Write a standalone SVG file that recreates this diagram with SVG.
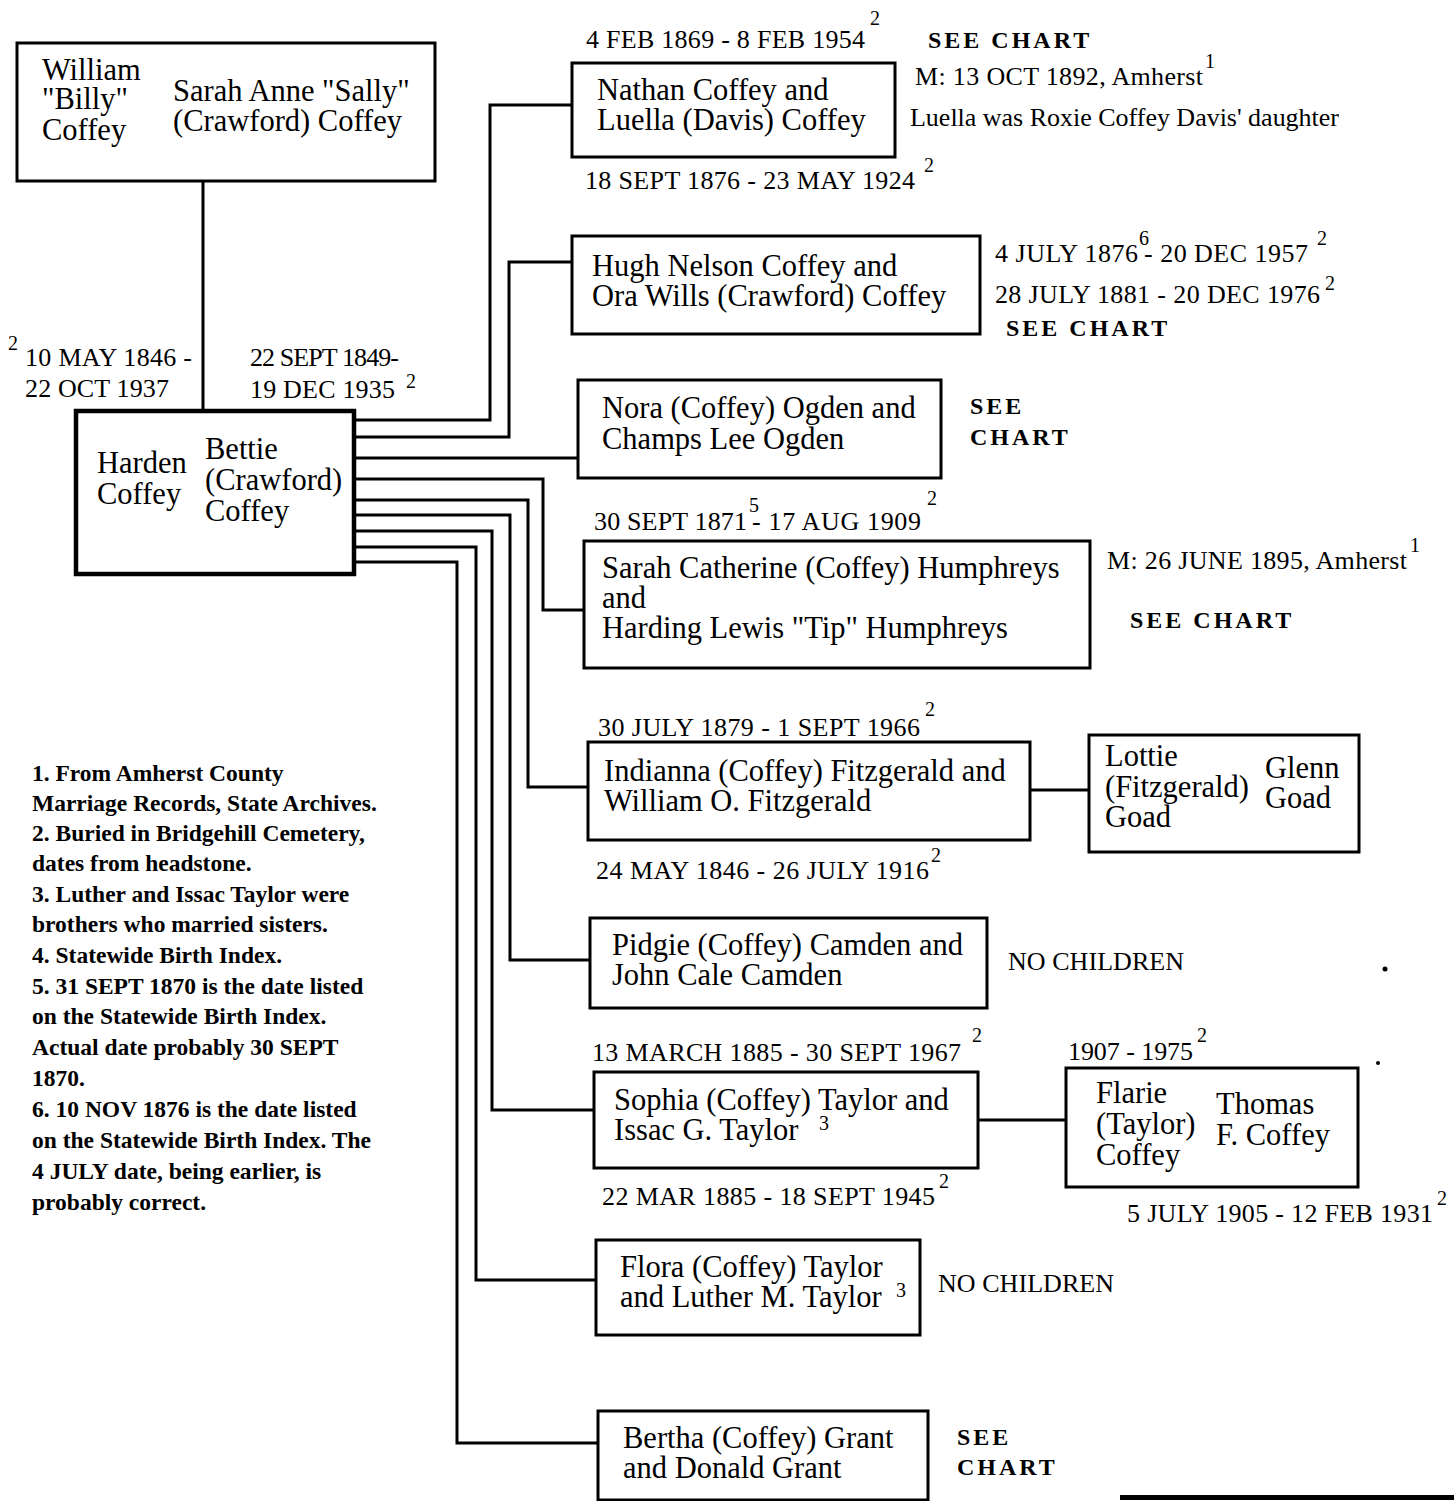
<svg xmlns="http://www.w3.org/2000/svg" width="1454" height="1501" viewBox="0 0 1454 1501">
<style>
.box{fill:#fff;stroke:#000;stroke-width:3}
.thick{stroke-width:4.5}
.con{fill:none;stroke:#000;stroke-width:3}
.nm{font-family:"Liberation Serif","Times New Roman",serif;font-size:30.5px;fill:#000}
.dt{font-family:"Liberation Serif","Times New Roman",serif;font-size:26px;fill:#000}
.sup{font-family:"Liberation Serif","Times New Roman",serif;font-size:20px;fill:#000}
.see{font-family:"Liberation Serif","Times New Roman",serif;font-size:24px;font-weight:bold;letter-spacing:3px;fill:#000}
.fn{font-family:"Liberation Serif","Times New Roman",serif;font-size:23.5px;font-weight:bold;fill:#000}
</style>
<rect width="1454" height="1501" fill="#fff"/>
<g id="connectors">
<path class="con" d="M203,182 V410"/>
<path class="con" d="M355,420 H490 V105 H572"/>
<path class="con" d="M355,437 H509 V262 H572"/>
<path class="con" d="M355,458 H578"/>
<path class="con" d="M355,479 H543 V610 H584"/>
<path class="con" d="M355,500 H528 V787 H588"/>
<path class="con" d="M355,515 H510 V960 H590"/>
<path class="con" d="M355,531 H492 V1110 H594"/>
<path class="con" d="M355,547 H476 V1280 H596"/>
<path class="con" d="M355,562 H457 V1443 H598"/>
<path class="con" d="M1030,790 H1089"/>
<path class="con" d="M978,1120 H1066"/>
</g>
<g id="parents">
<rect class="box" x="17" y="43" width="418" height="138"/>
<text class="nm" x="42" y="80">William</text>
<text class="nm" x="42" y="109">"Billy"</text>
<text class="nm" x="42" y="140">Coffey</text>
<text class="nm" x="173" y="101">Sarah Anne "Sally"</text>
<text class="nm" x="173" y="131">(Crawford) Coffey</text>
</g>
<g id="harden">
<rect class="box thick" x="76" y="411" width="278" height="163"/>
<text class="nm" x="97" y="473">Harden</text>
<text class="nm" x="97" y="504">Coffey</text>
<text class="nm" x="205" y="459">Bettie</text>
<text class="nm" x="205" y="490">(Crawford)</text>
<text class="nm" x="205" y="521">Coffey</text>
<text class="sup" x="8" y="350">2</text>
<text class="dt" x="25" y="366" textLength="167">10 MAY 1846 -</text>
<text class="dt" x="25" y="397" textLength="144">22 OCT 1937</text>
<text class="dt" x="250" y="366" textLength="149">22 SEPT 1849-</text>
<text class="dt" x="250" y="398" textLength="145">19 DEC 1935</text>
<text class="sup" x="406" y="388">2</text>
</g>
<g id="nathan">
<rect class="box" x="572" y="63" width="323" height="94"/>
<text class="nm" x="597" y="100">Nathan Coffey and</text>
<text class="nm" x="597" y="130">Luella (Davis) Coffey</text>
<text class="dt" x="586" y="48" textLength="279">4 FEB 1869 - 8 FEB 1954</text>
<text class="sup" x="870" y="25">2</text>
<text class="dt" x="585" y="189" textLength="330">18 SEPT 1876 - 23 MAY 1924</text>
<text class="sup" x="924" y="172">2</text>
<text class="see" x="928" y="48">SEE  CHART</text>
<text class="dt" x="915" y="85" textLength="288">M: 13 OCT 1892, Amherst</text>
<text class="sup" x="1205" y="68">1</text>
<text class="dt" x="910" y="126" textLength="429">Luella was Roxie Coffey Davis' daughter</text>
</g>
<g id="hugh">
<rect class="box" x="572" y="236" width="408" height="98"/>
<text class="nm" x="592" y="276">Hugh Nelson Coffey and</text>
<text class="nm" x="592" y="306">Ora Wills (Crawford) Coffey</text>
<text class="dt" x="995" y="262" textLength="143">4 JULY 1876</text>
<text class="sup" x="1139" y="245">6</text>
<text class="dt" x="1144" y="262" textLength="164">- 20 DEC 1957</text>
<text class="sup" x="1317" y="245">2</text>
<text class="dt" x="995" y="303" textLength="325">28 JULY 1881 - 20 DEC 1976</text>
<text class="sup" x="1325" y="290">2</text>
<text class="see" x="1006" y="336">SEE  CHART</text>
</g>
<g id="nora">
<rect class="box" x="578" y="380" width="363" height="98"/>
<text class="nm" x="602" y="418">Nora (Coffey) Ogden and</text>
<text class="nm" x="602" y="449">Champs Lee Ogden</text>
<text class="see" x="970" y="414">SEE</text>
<text class="see" x="970" y="445">CHART</text>
</g>
<g id="sarah">
<rect class="box" x="584" y="541" width="506" height="127"/>
<text class="nm" x="602" y="578">Sarah Catherine (Coffey) Humphreys</text>
<text class="nm" x="602" y="608">and</text>
<text class="nm" x="602" y="638">Harding Lewis "Tip" Humphreys</text>
<text class="dt" x="594" y="530" textLength="153">30 SEPT 1871</text>
<text class="sup" x="749" y="512">5</text>
<text class="dt" x="752" y="530" textLength="169">- 17 AUG 1909</text>
<text class="sup" x="927" y="505">2</text>
<text class="dt" x="1107" y="569" textLength="300">M: 26 JUNE 1895, Amherst</text>
<text class="sup" x="1410" y="552">1</text>
<text class="see" x="1130" y="628">SEE  CHART</text>
</g>
<g id="indianna">
<rect class="box" x="588" y="742" width="442" height="98"/>
<text class="nm" x="604" y="781">Indianna (Coffey) Fitzgerald and</text>
<text class="nm" x="604" y="811">William O. Fitzgerald</text>
<text class="dt" x="598" y="736" textLength="322">30 JULY 1879 - 1 SEPT 1966</text>
<text class="sup" x="925" y="716">2</text>
<text class="dt" x="596" y="879" textLength="333">24 MAY 1846 - 26 JULY 1916</text>
<text class="sup" x="931" y="862">2</text>
</g>
<g id="lottie">
<rect class="box" x="1089" y="735" width="270" height="117"/>
<text class="nm" x="1105" y="766">Lottie</text>
<text class="nm" x="1105" y="797">(Fitzgerald)</text>
<text class="nm" x="1105" y="827">Goad</text>
<text class="nm" x="1265" y="778">Glenn</text>
<text class="nm" x="1265" y="808">Goad</text>
</g>
<g id="pidgie">
<rect class="box" x="590" y="918" width="397" height="90"/>
<text class="nm" x="612" y="955">Pidgie (Coffey) Camden and</text>
<text class="nm" x="612" y="985">John Cale Camden</text>
<text class="dt" x="1008" y="970" textLength="176">NO CHILDREN</text>
</g>
<g id="sophia">
<rect class="box" x="594" y="1072" width="384" height="96"/>
<text class="nm" x="614" y="1110">Sophia (Coffey) Taylor and</text>
<text class="nm" x="614" y="1140">Issac G. Taylor</text>
<text class="sup" x="819" y="1130">3</text>
<text class="dt" x="592" y="1061" textLength="369">13 MARCH 1885 - 30 SEPT 1967</text>
<text class="sup" x="972" y="1042">2</text>
<text class="dt" x="602" y="1205" textLength="333">22 MAR 1885 - 18 SEPT 1945</text>
<text class="sup" x="939" y="1188">2</text>
</g>
<g id="flarie">
<rect class="box" x="1066" y="1068" width="292" height="119"/>
<text class="nm" x="1096" y="1103">Flarie</text>
<text class="nm" x="1096" y="1134">(Taylor)</text>
<text class="nm" x="1096" y="1165">Coffey</text>
<text class="nm" x="1216" y="1114">Thomas</text>
<text class="nm" x="1216" y="1145">F. Coffey</text>
<text class="dt" x="1068" y="1060" textLength="125">1907 - 1975</text>
<text class="sup" x="1197" y="1042">2</text>
<text class="dt" x="1127" y="1222" textLength="306">5 JULY 1905 - 12 FEB 1931</text>
<text class="sup" x="1437" y="1205">2</text>
</g>
<g id="flora">
<rect class="box" x="596" y="1240" width="324" height="95"/>
<text class="nm" x="620" y="1277">Flora (Coffey) Taylor</text>
<text class="nm" x="620" y="1307">and Luther M. Taylor</text>
<text class="sup" x="896" y="1297">3</text>
<text class="dt" x="938" y="1292" textLength="176">NO CHILDREN</text>
</g>
<g id="bertha">
<rect class="box" x="598" y="1411" width="330" height="89"/>
<text class="nm" x="623" y="1448">Bertha (Coffey) Grant</text>
<text class="nm" x="623" y="1478">and Donald Grant</text>
<text class="see" x="957" y="1445">SEE</text>
<text class="see" x="957" y="1475">CHART</text>
</g>
<g id="footnotes">
<text class="fn" x="32" y="781">1. From Amherst County</text>
<text class="fn" x="32" y="811">Marriage Records, State Archives.</text>
<text class="fn" x="32" y="841">2. Buried in Bridgehill Cemetery,</text>
<text class="fn" x="32" y="871">dates from headstone.</text>
<text class="fn" x="32" y="902">3. Luther and Issac Taylor were</text>
<text class="fn" x="32" y="932">brothers who married sisters.</text>
<text class="fn" x="32" y="963">4. Statewide Birth Index.</text>
<text class="fn" x="32" y="994">5. 31 SEPT 1870 is the date listed</text>
<text class="fn" x="32" y="1024">on the Statewide Birth Index.</text>
<text class="fn" x="32" y="1055">Actual date probably 30 SEPT</text>
<text class="fn" x="32" y="1086">1870.</text>
<text class="fn" x="32" y="1117">6. 10 NOV 1876 is the date listed</text>
<text class="fn" x="32" y="1148">on the Statewide Birth Index. The</text>
<text class="fn" x="32" y="1179">4 JULY date, being earlier, is</text>
<text class="fn" x="32" y="1210">probably correct.</text>
</g>
<g id="marks">
<circle cx="1385" cy="969" r="2.5" fill="#000"/>
<circle cx="1378" cy="1063" r="2" fill="#000"/>
<rect x="1120" y="1495" width="334" height="5" fill="#000"/>
</g>
</svg>
